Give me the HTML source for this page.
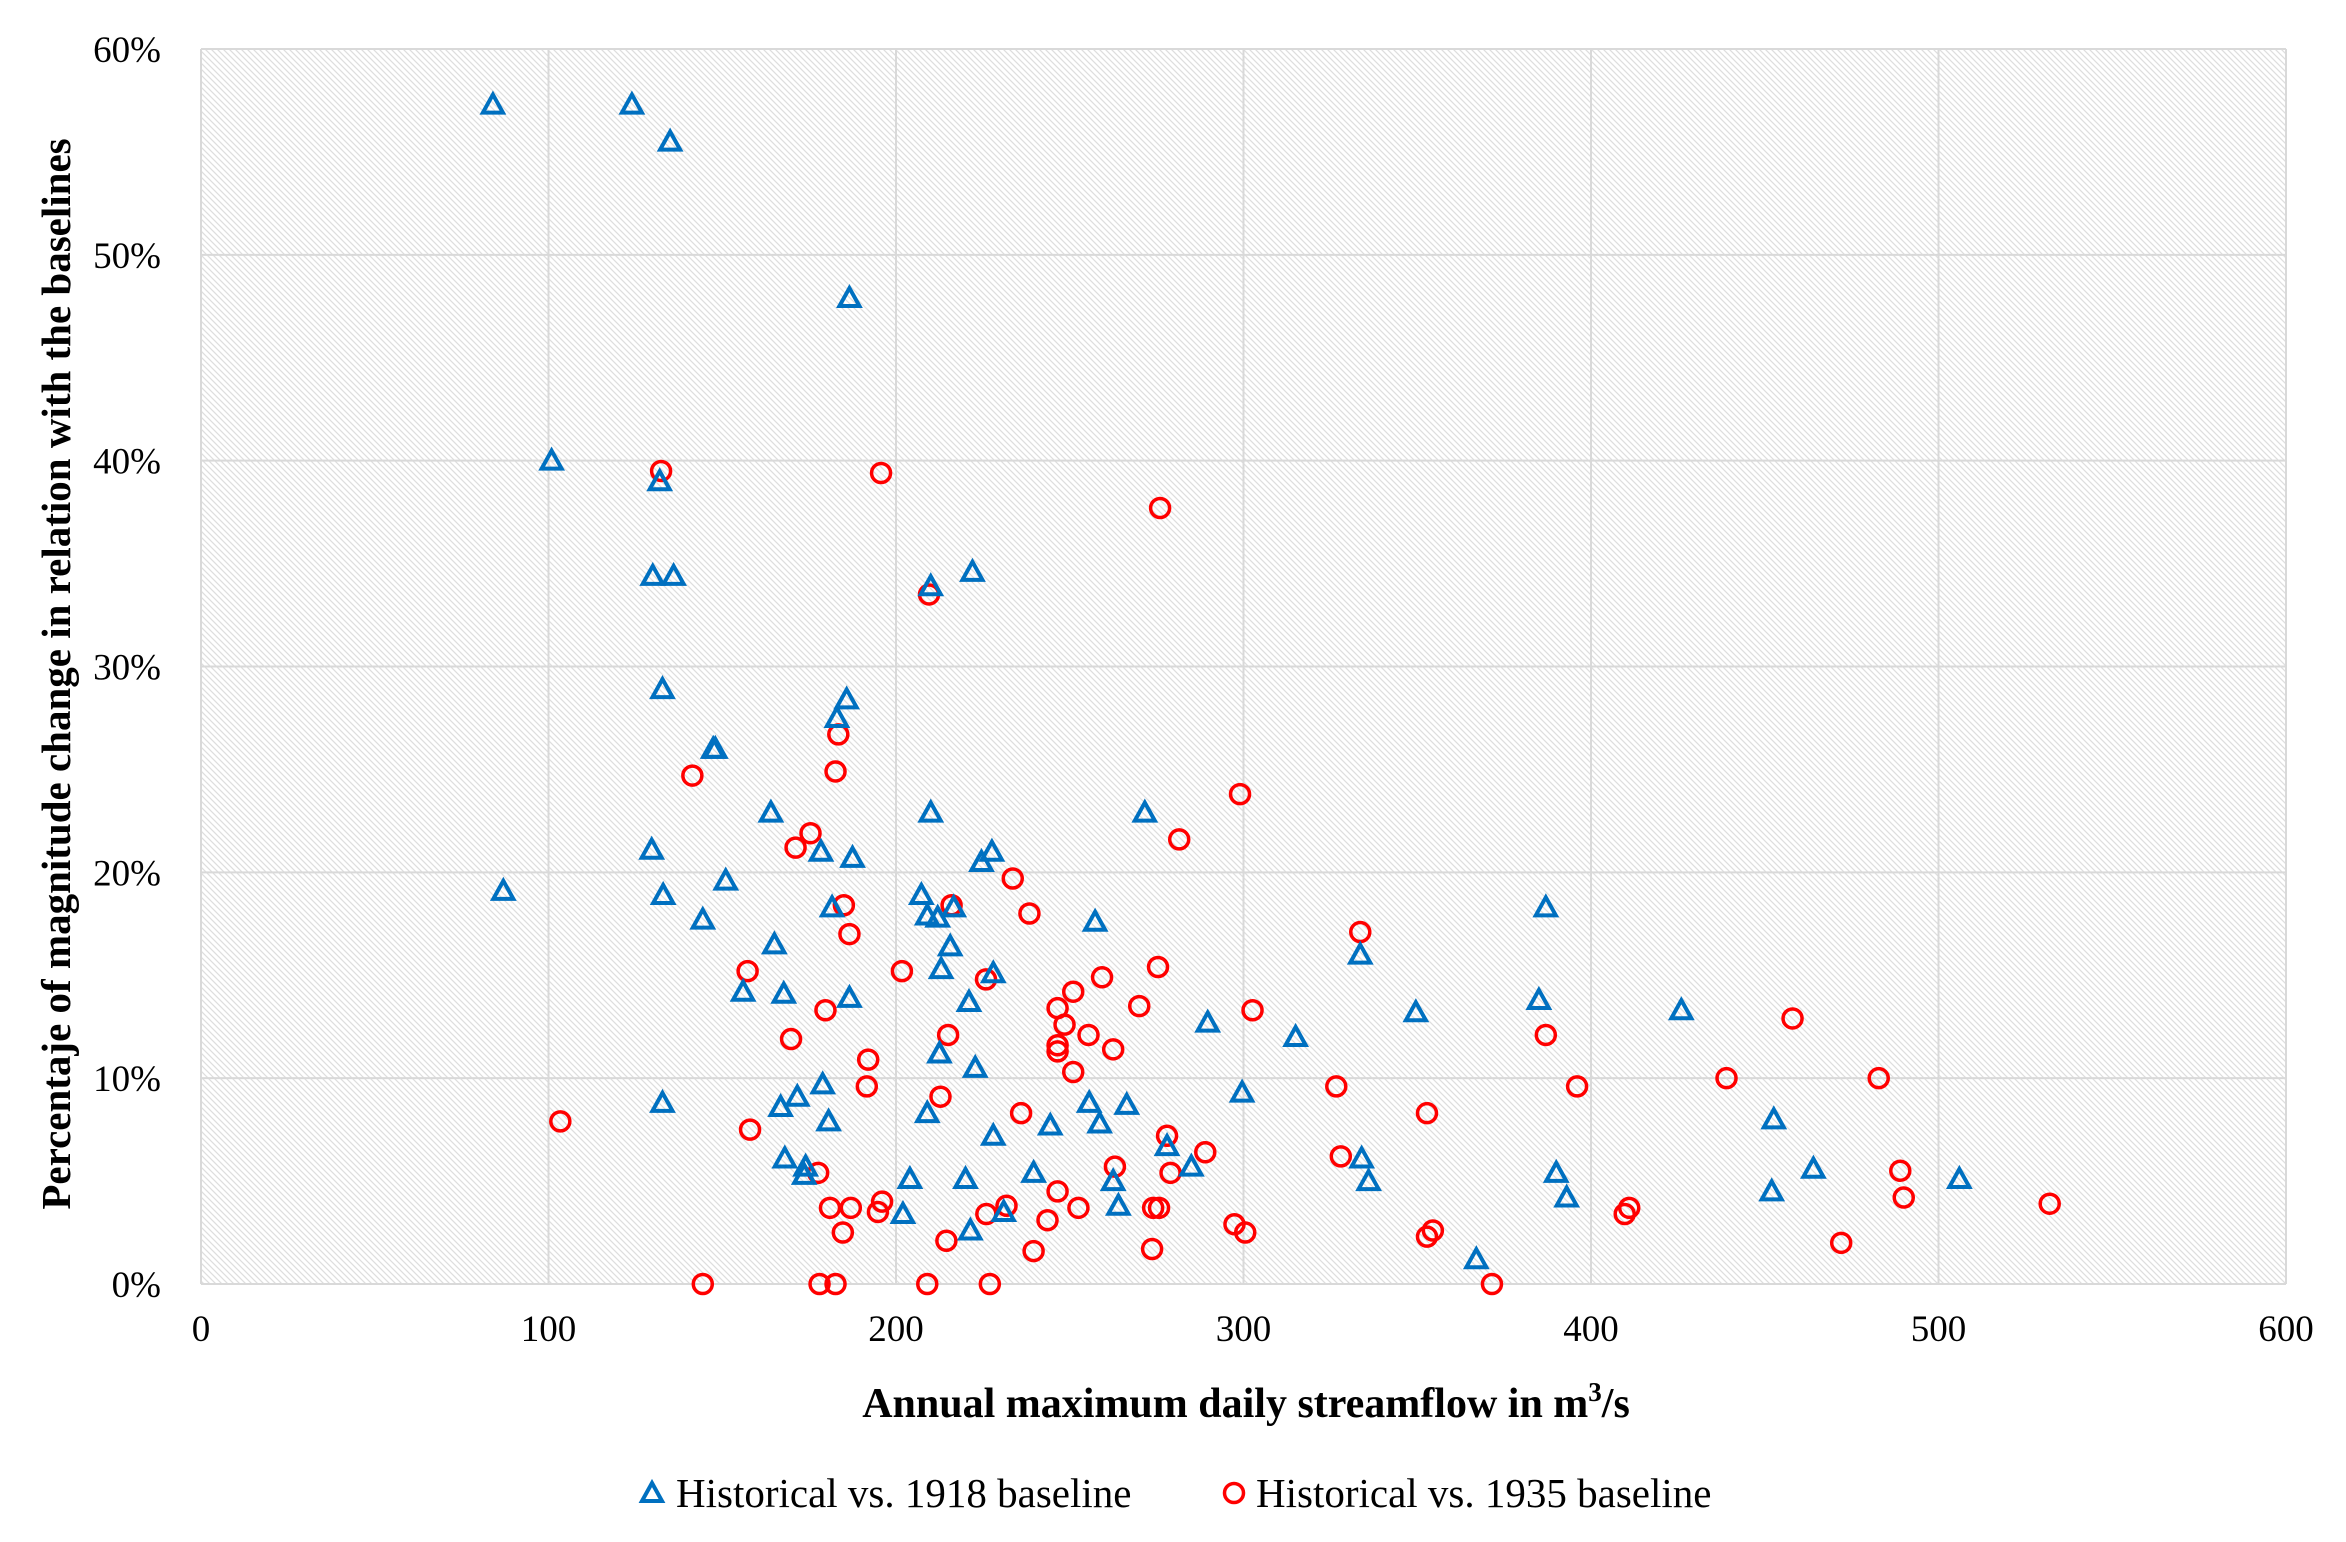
<!DOCTYPE html>
<html><head><meta charset="utf-8">
<style>
html,body{margin:0;padding:0;background:#fff;}
svg{display:block;}
text{font-family:"Liberation Serif",serif;fill:#000;}
</style></head>
<body>
<svg id="chart" width="2346" height="1542" viewBox="0 0 2346 1542" xmlns="http://www.w3.org/2000/svg">
<defs>
<pattern id="hatch" patternUnits="userSpaceOnUse" width="6" height="6">
<rect width="6" height="6" fill="#ffffff"/>
<path d="M-1,-1 L7,7 M-1,5 L1,7 M5,-1 L7,1" stroke="#dddddd" stroke-width="1.2"/>
</pattern>
</defs>
<g id="plot"></g>
<g id="marks"></g>
<g id="axes"></g>
<text x="1246" y="1417" font-size="42" font-weight="bold" text-anchor="middle">Annual maximum daily streamflow in m<tspan font-size="27" dy="-16">3</tspan><tspan dy="16">/s</tspan></text>
<text transform="translate(70,674) rotate(-90)" font-size="41" font-weight="bold" text-anchor="middle">Percentaje of magnitude change in relation with the baselines</text>
<g>
<g>
<polygon points="652,1483 662,1501 642,1501" fill="none" stroke="#0070C0" stroke-width="4" stroke-linejoin="miter"/>
<text x="676" y="1507" font-size="41">Historical vs. 1918 baseline</text>
</g>
<g>
<circle cx="1234" cy="1493" r="9.5" fill="none" stroke="#FF0000" stroke-width="3.5"/>
<text x="1256" y="1507" font-size="41">Historical vs. 1935 baseline</text>
</g>
</g>
</svg>
<script>
const xTicks = [0,100,200,300,400,500,600];
const yTicks = [0,10,20,30,40,50,60];
const yTickLabels = ["0%","10%","20%","30%","40%","50%","60%"];
const s1918x = [84,124,135,186.6,100.9,132,130,136,210,222,132.8,147.4,148,185.8,183,164,210,271.6,129.7,178.4,187.5,227.6,224.6,87,133,151,181.6,207.3,209,212,216.6,144.4,257.3,387,165,215.6,333.6,213,228,156,167.7,186.6,221,385,426,349.6,289.7,315,212.5,222.8,178.9,299.6,132.8,171.6,166.8,255.6,266.4,209,180.6,258.6,244.4,228,452.6,168,278,334,174,173.6,204,220,239.6,285,262.5,336,390,464,506,393,452,231,202,264,221.4,367];
const s1918y = [57.3,57.3,55.5,47.9,40.0,39.0,34.4,34.4,33.9,34.6,28.9,26.0,26.0,28.4,27.5,22.9,22.9,22.9,21.1,21.0,20.7,21.0,20.5,19.1,18.9,19.6,18.3,18.9,17.9,17.8,18.3,17.7,17.6,18.3,16.5,16.4,16.0,15.3,15.1,14.2,14.1,13.9,13.7,13.8,13.3,13.2,12.7,12.0,11.2,10.5,9.7,9.3,8.8,9.1,8.6,8.8,8.7,8.3,7.9,7.8,7.7,7.2,8.0,6.1,6.7,6.1,5.7,5.3,5.1,5.1,5.4,5.7,5.0,5.0,5.4,5.6,5.1,4.2,4.5,3.5,3.4,3.8,2.6,1.2];
const s1935x = [132.4,195.7,276,209.5,183.4,141.4,182.6,299,175.4,171.1,281.5,233.6,238.4,216,185,333.6,186.6,157.3,201.7,275.4,225.9,259.3,251,246.5,270,302.6,179.7,458,248.5,215,169.8,255.4,387,246.5,246.5,262.5,251,192,439,482.8,191.6,326.7,396,212.8,236,352.8,103.4,158,278,289,328,263,177.6,279,489,246.5,196,231.8,181,187,252.5,274,275.7,411,409.7,490,532,194.8,226,243.6,297.4,300.5,184.7,354.5,352.8,214.5,472,239.6,273.7,144.4,178,182.6,209,227,371.5];
const s1935y = [39.5,39.4,37.7,33.5,26.7,24.7,24.9,23.8,21.9,21.2,21.6,19.7,18.0,18.4,18.4,17.1,17.0,15.2,15.2,15.4,14.8,14.9,14.2,13.4,13.5,13.3,13.3,12.9,12.6,12.1,11.9,12.1,12.1,11.6,11.3,11.4,10.3,10.9,10.0,10.0,9.6,9.6,9.6,9.1,8.3,8.3,7.9,7.5,7.2,6.4,6.2,5.7,5.4,5.4,5.5,4.5,4.0,3.8,3.7,3.7,3.7,3.7,3.7,3.7,3.4,4.2,3.9,3.5,3.4,3.1,2.9,2.5,2.5,2.6,2.3,2.1,2.0,1.6,1.7,0,0,0,0,0,0];

const NS = "http://www.w3.org/2000/svg";
const L = 201, R = 2286, T = 49, B = 1284;
function xs(v){ return L + (v - 0) / 600 * (R - L); }
function ys(v){ return B - (v - 0) / 60 * (B - T); }
function mk(tag, attrs, parent){
  const e = document.createElementNS(NS, tag);
  for (const k in attrs) e.setAttribute(k, attrs[k]);
  parent.appendChild(e);
  return e;
}
const plot = document.getElementById('plot');
const axes = document.getElementById('axes');
const marks = document.getElementById('marks');

const bg = mk('rect', {x:L, y:T, width:R-L, height:B-T, fill:'url(#hatch)'}, plot);



yTicks.forEach((v, i) => {
  const g = mk('line', {x1:L, x2:R, y1:ys(v), y2:ys(v), stroke:'#d9d9d9', 'stroke-width':2}, plot);
  
  
  const t = mk('text', {x:L-40, y:ys(v)+13, 'font-size':37, 'text-anchor':'end'}, axes);
  t.textContent = yTickLabels[i];
  
  
});
xTicks.forEach(v => {
  const g = mk('line', {x1:xs(v), x2:xs(v), y1:T, y2:B, stroke:'#d9d9d9', 'stroke-width':2}, plot);
  
  
  const t = mk('text', {x:xs(v), y:B+57, 'font-size':37, 'text-anchor':'middle'}, axes);
  t.textContent = String(v);
  
  
});

for (let i = 0; i < s1935x.length; i++){
  const cx = xs(s1935x[i]), cy = ys(s1935y[i]);
  const c = mk('circle', {cx:cx, cy:cy, r:9.5, fill:'none', stroke:'#FF0000', 'stroke-width':3.5}, marks);
  
  
}
for (let i = 0; i < s1918x.length; i++){
  const cx = xs(s1918x[i]), cy = ys(s1918y[i]);
  const p = mk('polygon', {points:`${cx},${cy-10} ${cx+10},${cy+8} ${cx-10},${cy+8}`, fill:'none', stroke:'#0070C0', 'stroke-width':4}, marks);
  
  
}
</script>
</body></html>
